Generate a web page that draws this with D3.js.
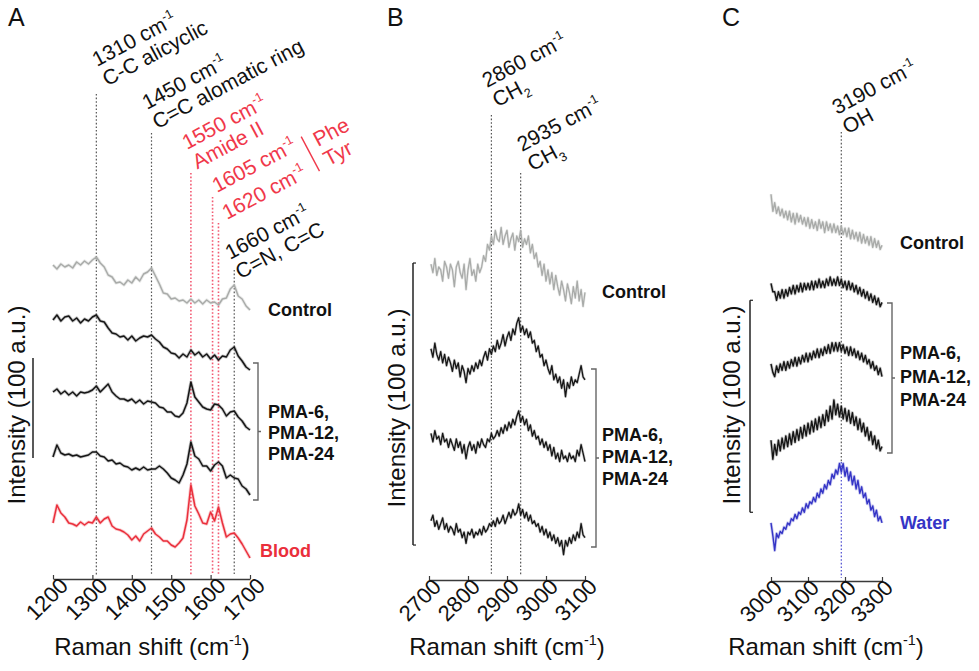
<!DOCTYPE html>
<html><head><meta charset="utf-8">
<script src="https://cdn.jsdelivr.net/npm/d3@7"></script>
<style>body{margin:0;background:#fff;} svg text{font-family:"Liberation Sans",Arial,sans-serif;}</style>
</head><body>
<svg id="chart" width="979" height="671"></svg>
<script>
// ---------------- DATA ----------------
// Panel A: 1200-1700 cm-1, every 10 cm-1 (intensity, a.u., stacked with offsets)
const shiftA = d3.range(1200, 1701, 10);
const controlA = [314,310,315,312,314,311,317,314,318,315,319,322,316,312,304,302,296,297,294,299,296,302,298,305,307,311,303,295,286,285,280,281,278,279,276,280,276,279,275,279,276,277,274,280,281,290,294,283,280,273,269];
const pma6A = [259,264,258,262,263,258,261,256,260,258,262,264,258,257,251,246,245,242,243,239,243,238,241,243,242,244,240,237,232,230,226,225,221,225,222,229,224,227,222,225,220,224,219,223,222,229,232,223,218,212,209];
const pma12A = [187,190,185,188,184,187,183,187,186,187,189,193,187,191,195,187,183,180,180,178,180,176,179,175,178,177,176,172,171,167,167,163,162,166,176,197,182,177,172,170,169,175,174,170,163,167,168,162,158,152,149];
const pma24A = [122,134,126,124,125,123,124,122,123,124,127,127,123,122,118,119,115,116,113,112,109,111,109,112,109,110,110,113,110,106,101,99,96,104,115,137,123,120,113,113,108,114,117,113,101,104,101,100,93,90,84];
const bloodA = [56,74,66,62,56,55,53,57,54,57,56,62,56,60,62,53,50,49,47,44,39,43,38,45,48,51,45,42,38,38,34,32,36,41,59,94,73,65,56,55,67,58,72,56,42,45,46,41,35,28,21];
const ticksA = [1200,1300,1400,1500,1600,1700];
const peaksA = [1310,1450,1550,1605,1620,1660];
const peakLabelsA = [
  ["1310 cm","C-C alicyclic"],
  ["1450 cm","C=C alomatic ring"],
  ["1550 cm","Amide II"],
  ["1605 cm",""],
  ["1620 cm",""],
  ["1660 cm","C=N, C=C"]
];

// Panel B: 2705-3100 cm-1, every 5 cm-1
const shiftB = d3.range(2705, 3101, 5);
const controlB = [112,109,114,108,111,110,106,113,111,107,112,110,104,111,113,109,107,112,103,110,114,108,110,106,112,109,
  111,115,113,119,117,122,119,124,121,120,125,119,122,124,118,121,123,117,122,120,124,118,121,119,122,116,119,114,
  116,111,113,108,112,106,110,105,109,103,108,104,101,106,103,99,105,102,98,104,100,106,99,103,97,102];
const pma6B = [82,79,84,80,78,81,77,80,76,79,77,74,78,75,77,72,76,74,70,75,
  73,76,74,77,75,78,76,79,81,78,82,80,83,81,85,82,84,87,83,86,
  88,85,89,87,91,93,88,90,87,89,86,88,84,85,81,83,79,80,76,78,
  75,73,76,71,73,70,72,68,71,65,70,68,72,69,71,70,73,76,72,71];
const pma12B = [52,49,53,50,51,48,52,49,50,47,50,48,46,50,47,49,45,48,43,47,
  49,46,48,45,49,47,50,48,47,50,49,52,50,51,53,51,54,52,55,53,
  56,54,57,55,58,60,56,58,55,57,53,55,51,53,50,51,48,50,47,49,
  46,48,44,47,43,45,42,46,43,44,42,45,43,44,42,46,44,48,45,42];
const pma24B = [21,23,19,21,18,20,22,18,20,17,19,18,16,20,17,18,15,17,13,17,
  16,18,15,17,16,18,16,19,17,18,20,19,21,19,22,20,21,23,20,22,
  24,22,25,23,24,27,23,25,22,24,21,23,20,21,19,20,17,19,16,18,
  15,17,14,16,13,15,12,14,9,14,12,15,13,16,14,17,15,20,16,15];
const ticksB = [2700,2800,2900,3000,3100];
const peaksB = [2860,2935];

// Panel C: 3000-3300 cm-1, every 5 cm-1
const shiftC = d3.range(3000, 3301, 5);
const controlC = [181,173,177,172,175,171,174,170,173,169,173,168,172,167,172,168,171,167,170,166,170,165,169,165,168,164,169,165,168,163,168,164,167,163,167,163,166,162,166,162,165,161,165,160,164,160,163,159,163,158,162,158,161,157,161,156,160,156,159,155,157];
const pma6C = [139,135,135,131,135,132,136,132,136,133,137,134,138,134,138,135,139,135,139,136,139,136,140,136,140,137,141,137,140,137,141,138,142,138,141,138,142,138,141,137,140,136,140,136,139,135,138,134,137,133,136,132,135,131,134,130,133,129,132,128,130];
const pma12C = [101,97,95,100,97,101,98,102,98,102,99,103,100,104,100,104,101,105,102,106,102,106,103,107,104,108,104,108,105,109,106,110,106,111,107,111,107,111,107,110,106,109,105,109,105,108,104,107,103,106,102,105,101,103,99,102,98,100,96,99,95];
const pma24C = [65,56,63,58,65,60,66,61,67,62,68,63,69,64,70,65,71,66,72,67,73,68,74,69,75,70,76,71,77,72,79,74,81,75,84,77,82,76,81,75,80,74,79,73,78,72,76,70,75,69,73,67,71,65,69,63,67,61,65,60,62];
const waterC = [26,20,13,21,19,22,21,24,23,26,25,28,27,30,28,31,30,33,31,35,33,36,35,38,36,40,38,42,40,44,42,46,44,49,47,51,49,54,50,54,48,52,46,50,44,48,42,46,40,43,38,40,35,37,32,34,29,32,27,29,26];
const ticksC = [3000,3100,3200,3300];
const peaksC = [3190];

const scaleBarAU = 100;

// ---------------- STYLE / LAYOUT ----------------
const GRAY = "#a9aba9", BLACK = "#161616", RED = "#ea2f3b", REDTXT = "#f0384a",
      BLUE = "#3535c6", DOT = "#555", REDDOT = "#f25a72", AXIS = "#3a3a3a";
const ANG = -28, AFS = 21, ALH = 22;

const svg = d3.select("#chart");

function rich(text, lines, fs, lh) {
  let cur = 0;
  lines.forEach((segs, i) => {
    segs.forEach((s, j) => {
      if (!s.t) return;
      const target = s.sup ? -fs * 0.42 : (s.sub ? fs * 0.28 : 0);
      const ts = text.append("tspan").text(s.t);
      let dy = target - cur + (j === 0 && i > 0 ? lh : 0);
      if (j === 0) ts.attr("x", 0);
      ts.attr("dy", dy);
      if (s.sup || s.sub) ts.attr("font-size", fs * 0.6);
      cur = target;
    });
  });
}

function panel(cfg) {
  const g = svg.append("g");
  const x = d3.scaleLinear().domain(cfg.xDomain).range(cfg.xRange);
  const y = d3.scaleLinear().domain([0, 100]).range([cfg.baseY, cfg.baseY - 100 * cfg.pxPerAU]);

  g.append("text").attr("x", cfg.letterX).attr("y", 26).attr("font-size", 25).attr("fill", "#111").text(cfg.letter);

  cfg.peaks.forEach((p, i) => {
    cfg.peakSegs[i].forEach(s => {
      g.append("line").attr("x1", x(p)).attr("x2", x(p))
        .attr("y1", s[0]).attr("y2", s[1])
        .attr("stroke", s[2]).attr("stroke-width", s[2] === REDDOT ? 1.6 : 1.2)
        .attr("stroke-dasharray", "1.6,2");
    });
  });

  const line = d3.line().x(d => x(d[0])).y(d => y(d[1]));
  cfg.traces.forEach(t => {
    const pts = cfg.shift.map((s, i) => [s, t.values[i]]);
    g.append("path").attr("d", line(pts)).attr("fill", "none")
      .attr("stroke", t.color).attr("stroke-width", cfg.halo).attr("stroke-opacity", 0.25).attr("stroke-linejoin", "round");
    g.append("path").attr("d", line(pts)).attr("fill", "none")
      .attr("stroke", t.color).attr("stroke-width", cfg.lw).attr("stroke-linejoin", "round");
  });

  const ax = g.append("g").attr("transform", `translate(0,${cfg.axisY})`)
    .call(d3.axisBottom(x).tickValues(cfg.ticks).tickSizeInner(-4).tickSizeOuter(0).tickFormat(d3.format("d")));
  ax.select(".domain").attr("stroke", AXIS).attr("stroke-width", 1.5);
  ax.selectAll(".tick line").attr("stroke", AXIS).attr("stroke-width", 1.2);
  ax.selectAll(".tick text").attr("x", 0).attr("y", 0).attr("dy", 0)
    .attr("text-anchor", "end").attr("font-size", 22).attr("fill", "#111")
    .attr("font-family", "Liberation Sans, Arial, sans-serif")
    .attr("transform", `translate(${cfg.tickDx},8) rotate(-45)`);

  const at = g.append("text").attr("transform", `translate(${cfg.titleX},655)`)
    .attr("text-anchor", "middle").attr("font-size", 24).attr("fill", "#111");
  rich(at, [[{t: "Raman shift (cm"}, {t: "-1", sup: true}, {t: ")"}]], 24, 0);

  g.append("text").attr("transform", `translate(${cfg.yLabelX},${cfg.yLabelY}) rotate(-90)`)
    .attr("text-anchor", "middle").attr("font-size", 24).attr("fill", "#111")
    .text("Intensity (100 a.u.)");

  const y0 = y(cfg.scaleBarStart), y1 = y(cfg.scaleBarStart + scaleBarAU);
  g.append("line").attr("x1", cfg.scaleBarX).attr("x2", cfg.scaleBarX).attr("y1", y0).attr("y2", y1)
    .attr("stroke", "#222").attr("stroke-width", 1.5);
  if (cfg.scaleFeet) {
    [y0, y1].forEach(yy => g.append("line").attr("x1", cfg.scaleBarX).attr("x2", cfg.scaleBarX + 3)
      .attr("y1", yy).attr("y2", yy).attr("stroke", "#222").attr("stroke-width", 1.2));
  }

  const b = cfg.bracket;
  g.append("path").attr("d", `M${b.x - 5},${b.y0}H${b.x}V${b.y1}H${b.x - 5}M${b.x},${(b.y0 + b.y1) / 2}h3`)
    .attr("fill", "none").attr("stroke", "#666").attr("stroke-width", 1.4);

  cfg.labels.forEach(l => {
    g.append("text").attr("x", l.x).attr("y", l.y).attr("font-size", 18).attr("font-weight", "bold")
      .attr("fill", l.color || "#111").text(l.t);
  });

  cfg.annots.forEach(a => {
    const t = g.append("text").attr("transform", `translate(${a.x},${a.y}) rotate(${ANG})`)
      .attr("font-size", AFS).attr("fill", a.color || "#111");
    rich(t, a.lines, AFS, ALH);
  });
  return {g, x, y};
}

// ---------------- PANEL A ----------------
const A = panel({
  letter: "A", letterX: 8,
  xDomain: [1200, 1700], xRange: [53, 250], axisY: 579, baseY: 579, pxPerAU: 1,
  shift: shiftA, ticks: ticksA, titleX: 152, tickDx: 16, lw: 1.5, halo: 3.2,
  peaks: peaksA,
  peakSegs: [[[94, 575, DOT]], [[133, 575, DOT]], [[173, 575, REDDOT]], [[197, 575, REDDOT]], [[223, 575, REDDOT]], [[270, 575, DOT]]],
  traces: [
    {values: controlA, color: GRAY},
    {values: pma6A, color: BLACK},
    {values: pma12A, color: BLACK},
    {values: pma24A, color: BLACK},
    {values: bloodA, color: RED}
  ],
  yLabelX: 25, yLabelY: 405,
  scaleBarX: 33, scaleBarStart: 121, scaleFeet: false,
  bracket: {x: 258, y0: 363, y1: 500},
  labels: [
    {t: "Control", x: 268, y: 316},
    {t: "PMA-6,", x: 268, y: 418},
    {t: "PMA-12,", x: 268, y: 439},
    {t: "PMA-24", x: 268, y: 460},
    {t: "Blood", x: 260, y: 557, color: RED}
  ],
  annots: [
    {x: 97, y: 67, lines: [[{t: peakLabelsA[0][0]}, {t: "-1", sup: true}], [{t: peakLabelsA[0][1]}]]},
    {x: 147, y: 110, lines: [[{t: peakLabelsA[1][0]}, {t: "-1", sup: true}], [{t: peakLabelsA[1][1]}]]},
    {x: 187, y: 150, color: REDTXT, lines: [[{t: peakLabelsA[2][0]}, {t: "-1", sup: true}], [{t: peakLabelsA[2][1]}]]},
    {x: 217, y: 193, color: REDTXT, lines: [[{t: peakLabelsA[3][0]}, {t: "-1", sup: true}]]},
    {x: 227, y: 220, color: REDTXT, lines: [[{t: peakLabelsA[4][0]}, {t: "-1", sup: true}]]},
    {x: 230, y: 260, lines: [[{t: peakLabelsA[5][0]}, {t: "-1", sup: true}], [{t: peakLabelsA[5][1]}]]},
    {x: 318, y: 147, color: REDTXT, lines: [[{t: "Phe"}], [{t: "Tyr"}]]}
  ]
});
A.g.append("line").attr("transform", `translate(318,147) rotate(${ANG})`)
  .attr("x1", -10).attr("x2", -10).attr("y1", -17).attr("y2", 22)
  .attr("stroke", REDTXT).attr("stroke-width", 1.4);

// ---------------- PANEL B ----------------
const B = panel({
  letter: "B", letterX: 387,
  xDomain: [2700, 3100], xRange: [429, 585], axisY: 580, baseY: 580, pxPerAU: 2.82,
  shift: shiftB, ticks: ticksB, titleX: 507, tickDx: 13, lw: 1.3, halo: 2.6,
  peaks: peaksB,
  peakSegs: [[[115, 575, DOT]], [[173, 575, DOT]]],
  traces: [
    {values: controlB, color: GRAY},
    {values: pma6B, color: BLACK},
    {values: pma12B, color: BLACK},
    {values: pma24B, color: BLACK}
  ],
  yLabelX: 405, yLabelY: 408,
  scaleBarX: 413, scaleBarStart: 12.4, scaleFeet: true,
  bracket: {x: 596, y0: 369, y1: 547},
  labels: [
    {t: "Control", x: 602, y: 298},
    {t: "PMA-6,", x: 602, y: 441},
    {t: "PMA-12,", x: 602, y: 463},
    {t: "PMA-24", x: 602, y: 485}
  ],
  annots: [
    {x: 487, y: 88, lines: [[{t: "2860 cm"}, {t: "-1", sup: true}], [{t: "CH"}, {t: "2", sub: true}]]},
    {x: 522, y: 152, lines: [[{t: "2935 cm"}, {t: "-1", sup: true}], [{t: "CH"}, {t: "3", sub: true}]]}
  ]
});

// ---------------- PANEL C ----------------
const C = panel({
  letter: "C", letterX: 722,
  xDomain: [3000, 3300], xRange: [771, 882], axisY: 581, baseY: 578, pxPerAU: 2.12,
  shift: shiftC, ticks: ticksC, titleX: 826, tickDx: 12, lw: 1.4, halo: 3,
  peaks: peaksC,
  peakSegs: [[[132, 462, DOT], [462, 578, "#4a4ad0"]]],
  traces: [
    {values: controlC, color: GRAY},
    {values: pma6C, color: BLACK},
    {values: pma12C, color: BLACK},
    {values: pma24C, color: BLACK},
    {values: waterC, color: BLUE}
  ],
  yLabelX: 740, yLabelY: 405,
  scaleBarX: 750, scaleBarStart: 31, scaleFeet: true,
  bracket: {x: 892, y0: 303, y1: 453},
  labels: [
    {t: "Control", x: 900, y: 249},
    {t: "PMA-6,", x: 900, y: 359},
    {t: "PMA-12,", x: 900, y: 383},
    {t: "PMA-24", x: 900, y: 406},
    {t: "Water", x: 900, y: 529, color: BLUE}
  ],
  annots: [
    {x: 837, y: 115, lines: [[{t: "3190 cm"}, {t: "-1", sup: true}], [{t: "OH"}]]}
  ]
});
</script>
</body></html>
